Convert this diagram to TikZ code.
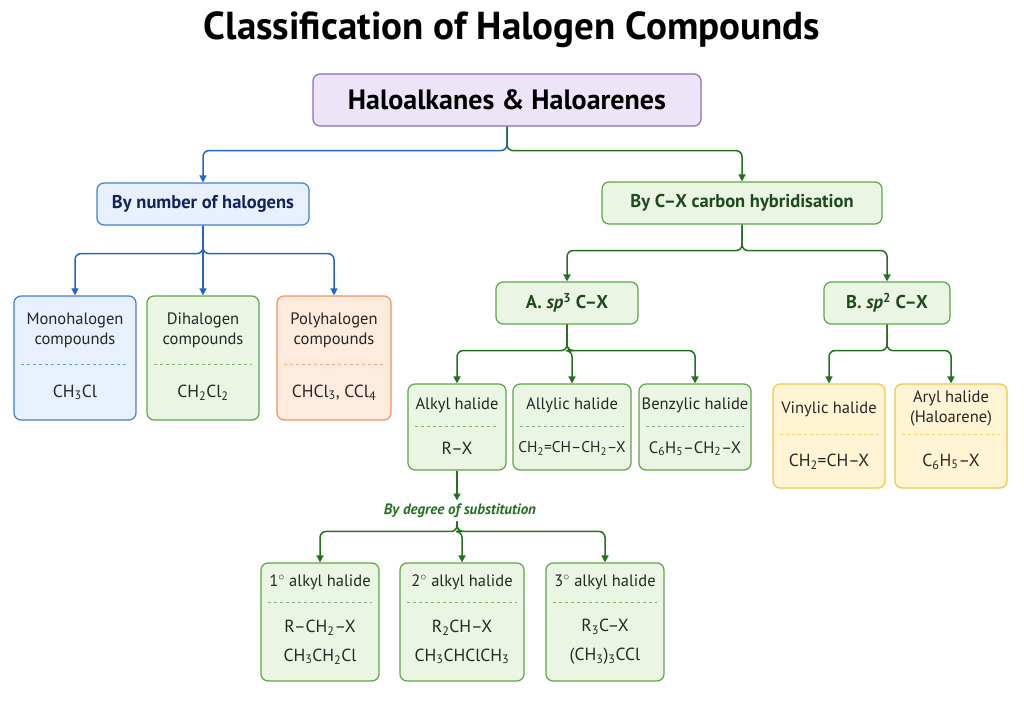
\documentclass[tikz,border=0pt]{standalone}
\usepackage{fontspec}
\setmainfont{PT Sans}
\usepackage{tikz}
\usetikzlibrary{arrows.meta,calc}

\definecolor{blueFill}{HTML}{E7F0FC}
\definecolor{blueLine}{HTML}{3F7FD6}
\definecolor{blueText}{HTML}{14235A}
\definecolor{greenFill}{HTML}{EAF6E3}
\definecolor{greenLine}{HTML}{5DA548}
\definecolor{greenText}{HTML}{1E4A1E}
\definecolor{orangeFill}{HTML}{FDEBDD}
\definecolor{orangeLine}{HTML}{F0935C}
\definecolor{yellowFill}{HTML}{FFF4D4}
\definecolor{yellowLine}{HTML}{F0C54A}
\definecolor{rootFill}{HTML}{ECE4F7}
\definecolor{rootLine}{HTML}{8A6CC0}
\definecolor{arrowBlue}{HTML}{2466C2}
\definecolor{arrowGreen}{HTML}{24701E}

\newcommand\ix[1]{\textsubscript{#1}}
% name, x, y, w, h, colour, head, body, divider from top
\newcommand\halbox[9]{%
  \node[box=#6,minimum width=#4pt,minimum height=#5pt] (#1) at (#2,#3) {};
  \draw[#6Line!80,dashed,line width=.5pt] ([xshift=8pt,yshift=-#9pt]#1.north west) -- ([xshift=-8pt,yshift=-#9pt]#1.north east);
  \node[head,align=center] (#1-head) at ([yshift=-#9pt/2]#1.north) {#7};
  \node[body,align=center] (#1-body) at ($([yshift=-#9pt]#1.north)!.5!(#1.south)$) {#8};
}

\tikzset{
  box/.style={rounded corners=7pt,line width=1.2pt,fill=#1Fill,draw=#1Line},
  head/.style={font=\fontsize{16.5}{20}\selectfont,text=black!85},
  body/.style={font=\fontsize{17.5}{29}\selectfont,text=black!85},
  cat/.style={box=#1,font=\bfseries\fontsize{18.5}{22}\selectfont,minimum height=42pt,inner xsep=12pt},
  link/.style={draw=#1,line width=1.5pt,rounded corners=6pt,-{Triangle[length=7pt,width=7pt]}},
}

\begin{document}
\begin{tikzpicture}[x=1pt,y=-1pt]
\useasboundingbox (0,0) rectangle (1024,725);

\node[font=\bfseries\fontsize{39}{44}\selectfont] (title) at (512,30) {Classification of Halogen Compounds};
\node[box=root,font=\bfseries\fontsize{28}{32}\selectfont,minimum width=388pt,minimum height=52pt] (root) at (507,100) {Haloalkanes \& Haloarenes};

\node[cat=blue,text=blueText,minimum width=212pt] (bynum) at (203,204) {By number of halogens};
\node[cat=green,text=greenText,minimum width=280pt] (byhyb) at (742,203) {By C–X carbon hybridisation};

\halbox{mono}{75}{358}{122}{124}{blue}{Monohalogen\\compounds}{CH\ix{3}Cl}{69}
\halbox{di}{203}{358}{112}{124}{green}{Dihalogen\\compounds}{CH\ix{2}Cl\ix{2}}{69}
\halbox{poly}{334}{358}{114}{124}{orange}{Polyhalogen\\compounds}{CHCl\ix{3}, CCl\ix{4}}{69}

\node[cat=green,text=greenText,minimum width=142pt] (spthree) at (567,303) {A. \textit{sp}\textsuperscript{3} C–X};
\node[cat=green,text=greenText,minimum width=126pt] (sptwo) at (887,303) {B. \textit{sp}\textsuperscript{2} C–X};

\halbox{alkyl}{457}{427}{98}{86}{green}{Alkyl halide}{R–X}{43}
\halbox{allylic}{572}{427}{118}{86}{green}{Allylic halide}{\fontsize{15.5}{18}\selectfont CH\ix{2}=CH–CH\ix{2}–X}{43}
\halbox{benzylic}{695}{427}{112}{86}{green}{Benzylic halide}{\fontsize{16.5}{18}\selectfont C\ix{6}H\ix{5}–CH\ix{2}–X}{43}
\halbox{vinylic}{829}{436}{112}{104}{yellow}{Vinylic halide}{CH\ix{2}=CH–X}{51}
\halbox{aryl}{951}{436}{112}{104}{yellow}{Aryl halide\\(Haloarene)}{C\ix{6}H\ix{5}–X}{51}

\node[font=\bfseries\itshape\fontsize{15}{17}\selectfont,text=arrowGreen] (degree) at (460,511) {By degree of substitution};

\halbox{primary}{320}{622}{118}{118}{green}{1$^\circ$ alkyl halide}{R–CH\ix{2}–X\\CH\ix{3}CH\ix{2}Cl}{40}
\halbox{secondary}{462}{622}{124}{118}{green}{2$^\circ$ alkyl halide}{R\ix{2}CH–X\\CH\ix{3}CHClCH\ix{3}}{40}
\halbox{tertiary}{605}{622}{118}{118}{green}{3$^\circ$ alkyl halide}{R\ix{3}C–X\\(CH\ix{3})\ix{3}CCl}{40}

% connectors
\draw[link=arrowBlue] (root.south) -- ++(0,24) -| (bynum.north);
\draw[link=arrowGreen] (root.south) -- ++(0,24) -| (byhyb.north);
\foreach \t in {mono,di,poly}
  \draw[link=arrowBlue] (bynum.south) -- ++(0,28) -| (\t.north);
\foreach \t in {spthree,sptwo}
  \draw[link=arrowGreen] (byhyb.south) -- ++(0,26) -| (\t.north);
\foreach \t in {alkyl,allylic,benzylic}
  \draw[link=arrowGreen] (spthree.south) -- ++(0,26) -| (\t.north);
\foreach \t in {vinylic,aryl}
  \draw[link=arrowGreen] (sptwo.south) -- ++(0,26) -| (\t.north);
\draw[link=arrowGreen] (alkyl.south) -- (degree.north -| alkyl.south);
\foreach \t in {primary,secondary,tertiary}
  \draw[link=arrowGreen] (degree.south -| alkyl.south) -- ++(0,10) -| (\t.north);
\end{tikzpicture}
\end{document}
